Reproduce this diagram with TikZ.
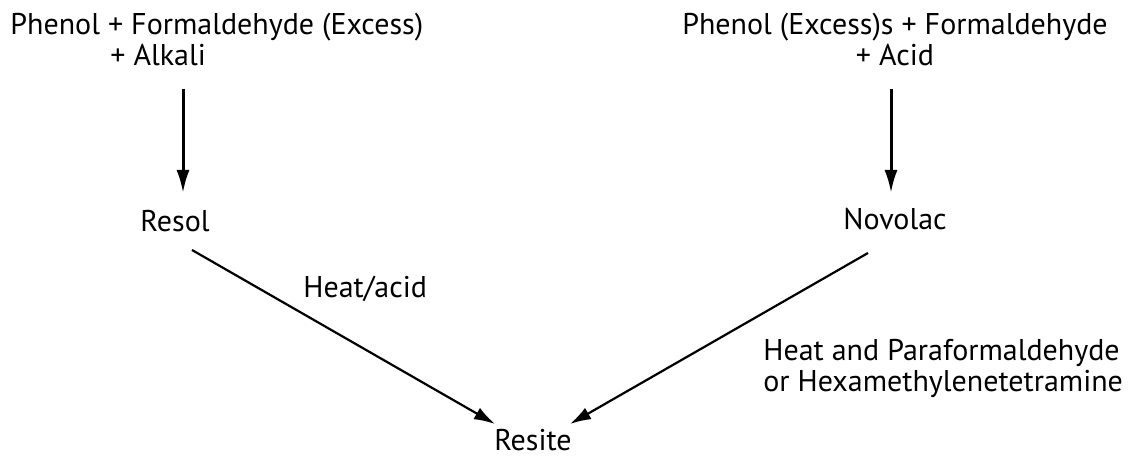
\documentclass[tikz,border=0pt]{standalone}
\usepackage{fontspec}
\setmainfont{PT Sans}
\usetikzlibrary{arrows.meta,calc}
\begin{document}
\begin{tikzpicture}[x=0.5pt, y=-0.5pt,
		lbl/.style={inner sep=0pt, font=\fontsize{15pt}{15.5pt}\selectfont},
		vert/.style={line width=1.5pt, -{Latex[length=11.5pt,width=6.5pt]}},
		diag/.style={line width=1.1pt, -{Latex[length=10.5pt,width=6.5pt]}}]
		\useasboundingbox (0,0) rectangle (1137,459);
		% ---- starting mixtures ----
		\node[lbl, align=left, anchor=north west] (phal) at (10,13)
			{Phenol + Formaldehyde (Excess)\\\hspace*{50pt}+ Alkali};
		\node[lbl, align=center, anchor=north] (pfac) at (895,13)
			{Phenol (Excess)s + Formaldehyde\\+ Acid};
		% ---- prepolymers ----
		\node[lbl, anchor=base] (resol) at (175,232) {Resol};
		\node[lbl, anchor=base] (novo) at (895,230) {Novolac};
		% ---- cured resin ----
		\node[lbl, anchor=base] (resite) at (533,451) {Resite};
		\node[lbl, anchor=base west] (hacid) at (303,298) {Heat/acid};
		\node[lbl, align=left, anchor=north west] (hpara) at (763,339)
			{Heat and Paraformaldehyde\\or Hexamethylenetetramine};
		% ---- arrows ----
		\draw[vert] ($(phal.south -| resol.base)+(8,22)$) -- ($(resol.base)+(8,-39)$);
		\draw[vert] ($(pfac.south -| novo.base)+(-4,22)$) -- ($(novo.base)+(-4,-37)$);
		\draw[diag] ($(resol.base)+(17,18)$) -- ($(resite.base)+(-38,-27)$);
		\draw[diag] ($(novo.base)+(-27,23)$) -- ($(resite.base)+(37,-27)$);
	\end{tikzpicture}
\end{document}
